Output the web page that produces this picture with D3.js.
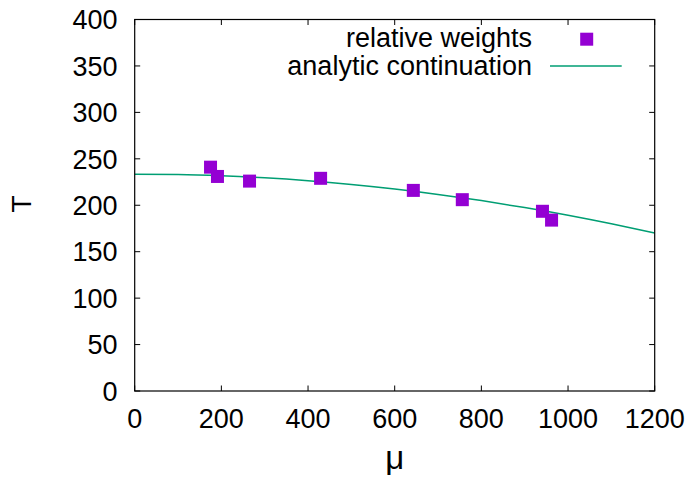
<!DOCTYPE html>
<html>
<head>
<meta charset="utf-8">
<script src="https://cdn.jsdelivr.net/npm/d3@7"></script>
<style>
  html, body { margin: 0; padding: 0; background: #fff; }
  svg { display: block; font-family: "Liberation Sans", Arial, sans-serif; }
</style>
</head>
<body>
<svg id="chart" width="690" height="478"></svg>
<script>
// Lattice estimates of the transition temperature at chemical potential mu
const weightMu = [175, 191, 265, 429, 643, 756, 941, 962];
const weightT  = [241, 231, 226, 229, 216, 206, 193.5, 184];

// Analytic continuation curve, sampled every 100 in mu
const contMu = [0, 100, 200, 300, 400, 500, 600, 700, 800, 900, 1000, 1100, 1200];
const contT  = [233.5, 233.1, 231.7, 229.5, 226.4, 222.4, 217.5, 211.7, 205.0, 197.5, 189.2, 180.0, 170.0];

const xTicks = [0, 200, 400, 600, 800, 1000, 1200];
const yTicks = [0, 50, 100, 150, 200, 250, 300, 350, 400];

const legendLabels = ["relative weights", "analytic continuation"];
const purple = "#9400d3";
const green = "#009e73";

const svg = d3.select("#chart");
const plotL = 134.7, plotR = 654.7, plotT = 19.5, plotB = 391;
const fontSize = 27;
const tickLen = 5.5;

const x = d3.scaleLinear().domain([0, 1200]).range([plotL, plotR]);
const y = d3.scaleLinear().domain([0, 400]).range([plotB, plotT]);

// Ticks on all four sides, pointing inward
const g = svg.append("g").attr("stroke", "#000").attr("stroke-width", 1);
xTicks.forEach(v => {
  g.append("line").attr("x1", x(v)).attr("x2", x(v)).attr("y1", plotB).attr("y2", plotB - tickLen);
  g.append("line").attr("x1", x(v)).attr("x2", x(v)).attr("y1", plotT).attr("y2", plotT + tickLen);
});
yTicks.forEach(v => {
  g.append("line").attr("x1", plotL).attr("x2", plotL + tickLen).attr("y1", y(v)).attr("y2", y(v));
  g.append("line").attr("x1", plotR).attr("x2", plotR - tickLen).attr("y1", y(v)).attr("y2", y(v));
});

// Tick labels
svg.append("g").selectAll("text").data(xTicks).join("text")
  .attr("x", d => x(d)).attr("y", 428.3)
  .attr("text-anchor", "middle").attr("font-size", fontSize).attr("fill", "#000")
  .text(d => d);
svg.append("g").selectAll("text").data(yTicks).join("text")
  .attr("x", 117.5).attr("y", d => y(d) + 9.7)
  .attr("text-anchor", "end").attr("font-size", fontSize).attr("fill", "#000")
  .text(d => d);

// Axis titles
svg.append("text").attr("transform", `translate(${31},${204}) rotate(-90)`)
  .attr("text-anchor", "middle").attr("font-size", 28).text("T");
svg.append("text").attr("x", (plotL + plotR) / 2).attr("y", 469)
  .attr("text-anchor", "middle").attr("font-size", 33).text("μ");

// Curve, clipped to the plot area
svg.append("clipPath").attr("id", "plotclip").append("rect")
  .attr("x", plotL).attr("y", plotT).attr("width", plotR - plotL).attr("height", plotB - plotT);
const line = d3.line().x(d => x(d[0])).y(d => y(d[1])).curve(d3.curveMonotoneX);
svg.append("path")
  .datum(contMu.map((m, i) => [m, contT[i]]))
  .attr("clip-path", "url(#plotclip)")
  .attr("d", line).attr("fill", "none").attr("stroke", green).attr("stroke-width", 1.5);

// Square markers
const sq = 13;
svg.append("g").selectAll("rect").data(weightMu.map((m, i) => [m, weightT[i]])).join("rect")
  .attr("x", d => x(d[0]) - sq / 2).attr("y", d => y(d[1]) - sq / 2)
  .attr("width", sq).attr("height", sq).attr("fill", purple);

// Legend
const leg = svg.append("g");
leg.append("text").attr("x", 532).attr("y", 47.3).attr("text-anchor", "end")
  .attr("font-size", fontSize).text(legendLabels[0]);
leg.append("rect").attr("x", 586.7 - sq / 2).attr("y", 39.2 - sq / 2)
  .attr("width", sq).attr("height", sq).attr("fill", purple);
leg.append("text").attr("x", 532).attr("y", 74.5).attr("text-anchor", "end")
  .attr("font-size", fontSize).text(legendLabels[1]);
leg.append("line").attr("x1", 550).attr("x2", 621.7).attr("y1", 66).attr("y2", 66)
  .attr("stroke", green).attr("stroke-width", 1.5);

// Frame
svg.append("rect").attr("x", plotL).attr("y", plotT)
  .attr("width", plotR - plotL).attr("height", plotB - plotT)
  .attr("fill", "none").attr("stroke", "#000").attr("stroke-width", 1.2);
</script>
</body>
</html>
